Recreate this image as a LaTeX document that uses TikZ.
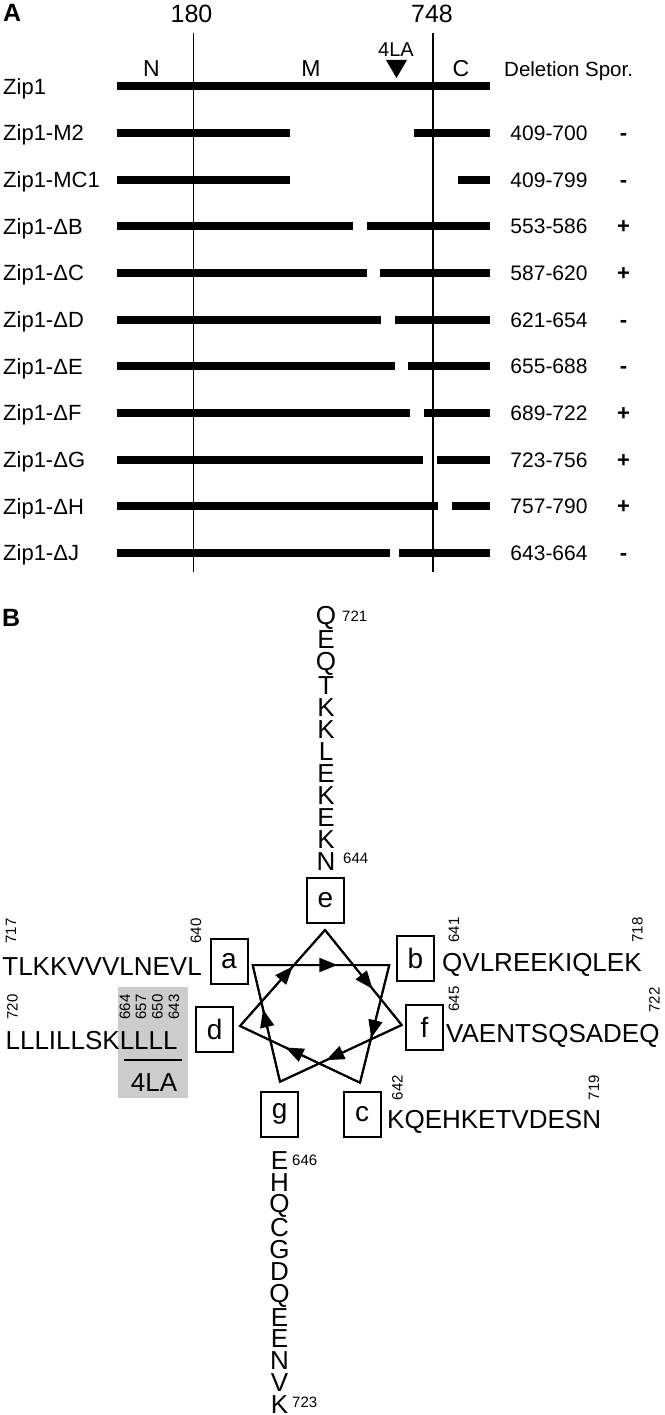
\documentclass[tikz,border=0pt]{standalone}
\usepackage{fontspec}
\setmainfont{Liberation Sans}
\usetikzlibrary{arrows.meta,decorations.markings}
\definecolor{boxgray}{RGB}{204,204,204}
\begin{document}
\begin{tikzpicture}[x=1pt,y=-1pt,
  lab/.style={font=\fontsize{22}{24}\selectfont, inner sep=0, anchor=base west},
  num/.style={font=\fontsize{21}{24}\selectfont, inner sep=0, anchor=base},
  sgn/.style={font=\bfseries\fontsize{22}{24}\selectfont, inner sep=0, anchor=base},
  hdr/.style={font=\fontsize{25}{27}\selectfont, inner sep=0, anchor=base},
  panel/.style={font=\bfseries\fontsize{25}{27}\selectfont, inner sep=0, anchor=base west},
  bar/.style={line width=8pt},
  vline/.style={line width=1.5pt},
  seq/.style={font=\fontsize{26}{28}\selectfont, inner sep=0},
  column/.style={font=\fontsize{26}{22}\selectfont, inner sep=0, align=center, anchor=north},
  smallnum/.style={font=\fontsize{15}{17}\selectfont, inner sep=0},
  posbox/.style={draw, line width=2pt, minimum width=37pt, minimum height=45pt, inner sep=0, font=\fontsize{28}{30}\selectfont},
  helix/.style={line width=2pt, decoration={markings, mark=at position 0.62 with {\arrow{Triangle[length=18pt,width=14pt]}}}, postaction=decorate}
]
\useasboundingbox (0,0) rectangle (664,1415);

% ---------------- Panel A ----------------
\node[panel] (pA) at (3,22) {A};
\node[hdr] (t180) at (191.5,23) {180};
\node[hdr] (t748) at (432,23) {748};
\draw[vline] (193.5,33) -- (193.5,572);
\draw[vline] (432.8,33) -- (432.8,572);
\node[font=\fontsize{23}{25}\selectfont, inner sep=0, anchor=base] (tN) at (151.5,77) {N};
\node[font=\fontsize{23}{25}\selectfont, inner sep=0, anchor=base] (tM) at (311,77) {M};
\node[font=\fontsize{23}{25}\selectfont, inner sep=0, anchor=base] (tC) at (461,77) {C};
\node[font=\fontsize{20}{22}\selectfont, inner sep=0, anchor=base] (t4la) at (396,57) {4LA};
\fill (386,60) -- (407,60) -- (396.5,78) -- cycle;
\node[font=\fontsize{20.5}{22}\selectfont, inner sep=0, anchor=base west] (thdr) at (504,77) {Deletion Spor.};

\node[lab] (l0) at (3,94.2) {Zip1};
\draw[bar] (116.5,86.5) -- (490,86.5);

\foreach \nm/\ea/\sb/\del/\sg [count=\i] in {
  Zip1-M2/290/414.4/409-700/-,
  Zip1-MC1/290/457.6/409-799/-,
  Zip1-ΔB/353/366.5/553-586/+,
  Zip1-ΔC/366.5/380/587-620/+,
  Zip1-ΔD/381/395/621-654/-,
  Zip1-ΔE/394.5/408/655-688/-,
  Zip1-ΔF/410/423.5/689-722/+,
  Zip1-ΔG/423/437/723-756/+,
  Zip1-ΔH/438.3/451.7/757-790/+,
  Zip1-ΔJ/390/399/643-664/-}
{
  \pgfmathsetmacro\yy{86.5+46.65*\i}
  \node[lab] (l\i) at (3,\yy+7.7) {\nm};
  \draw[bar] (116.5,\yy) -- (\ea,\yy);
  \draw[bar] (\sb,\yy) -- (490,\yy);
  \node[num] (d\i) at (549,\yy+7.5) {\del};
  \node[sgn] (s\i) at (623.5,\yy+7.5) {\sg};
}

% ---------------- Panel B ----------------
\node[panel] (pB) at (2,626) {B};

% top column
\node[column] (topcol) at (326,606.3) {Q\\E\\Q\\T\\K\\K\\L\\E\\K\\E\\K\\N};
\node[smallnum, anchor=base west] (n721) at (342,621.4) {721};
\node[smallnum, anchor=base west] (n644) at (343,863.4) {644};

% bottom column
\node[column, font=\fontsize{26}{21.8}\selectfont] (botcol) at (279.5,1151.2) {E\\H\\Q\\C\\G\\D\\Q\\E\\E\\N\\V\\K};
\node[smallnum, anchor=base west] (n646) at (292,1165.9) {646};
\node[smallnum, anchor=base west] (n723) at (292,1407.5) {723};

% gray 4LA box
\fill[boxgray] (117.5,987) rectangle (188,1097.5);
\node[smallnum, rotate=90] (g664) at (125,1007) {664};
\node[smallnum, rotate=90] (g657) at (141,1007) {657};
\node[smallnum, rotate=90] (g650) at (157.5,1007) {650};
\node[smallnum, rotate=90] (g643) at (174,1007) {643};
\draw[line width=1.5pt] (124,1060) -- (181.5,1060);
\node[seq, anchor=base] (la4) at (154,1091.5) {4LA};

% sequences
\node[seq, anchor=base east] (sa) at (202,975) {TLKKVVVLNEVL};
\node[seq, anchor=base west] (sb) at (442,971) {QVLREEKIQLEK};
\node[seq, anchor=base west] (sd) at (5.4,1049) {LLLILLSKLLLL};
\node[seq, anchor=base west] (sf) at (446,1042) {VAENTSQSADEQ};
\node[seq, anchor=base west] (sc) at (387,1128) {KQEHKETVDESN};

% rotated residue numbers
\node[smallnum, rotate=90] (r717) at (11,931) {717};
\node[smallnum, rotate=90] (r640) at (196,931) {640};
\node[smallnum, rotate=90] (r641) at (454,930) {641};
\node[smallnum, rotate=90] (r718) at (637.5,930) {718};
\node[smallnum, rotate=90] (r720) at (12.5,1007) {720};
\node[smallnum, rotate=90] (r645) at (454,999) {645};
\node[smallnum, rotate=90] (r722) at (654.5,1000) {722};
\node[smallnum, rotate=90] (r642) at (397.5,1087.5) {642};
\node[smallnum, rotate=90] (r719) at (594,1087.5) {719};

% heptad position boxes
\node[posbox] (be) at (325.5,900.5) {e};
\node[posbox] (ba) at (229,961) {a};
\node[posbox] (bb) at (415.5,958.5) {b};
\node[posbox] (bd) at (214.7,1029) {d};
\node[posbox] (bf) at (424.5,1027.5) {f};
\node[posbox] (bg) at (279.6,1114) {g};
\node[posbox] (bcc) at (362,1114) {c};

% helical wheel star
\coordinate (va) at (252.7,965);
\coordinate (vb) at (389.3,965);
\coordinate (vc) at (360,1082.7);
\coordinate (vd) at (240,1026);
\coordinate (ve) at (325,930);
\coordinate (vf) at (401.7,1025);
\coordinate (vg) at (280,1081.7);
\draw[line width=2pt, line join=miter] (va) -- (vb) -- (vc) -- (vd) -- (ve) -- (vf) -- (vg) -- cycle;
\draw[helix] (va) -- (vb);
\draw[helix] (vb) -- (vc);
\draw[helix] (vc) -- (vd);
\draw[helix] (vd) -- (ve);
\draw[helix] (ve) -- (vf);
\draw[helix] (vf) -- (vg);
\draw[helix] (vg) -- (va);
\end{tikzpicture}
\end{document}
